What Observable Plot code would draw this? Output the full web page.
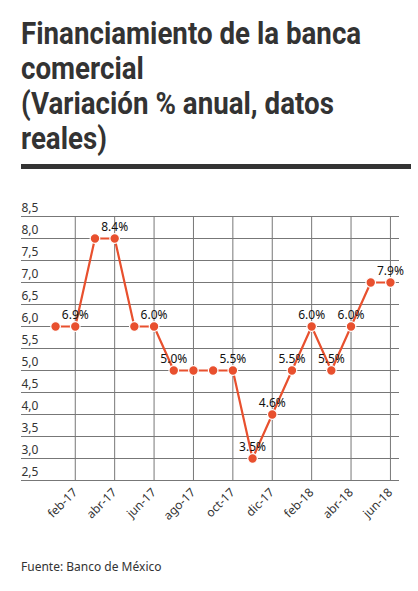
<!DOCTYPE html>
<html>
<head>
<meta charset="utf-8">
<script src="https://cdn.jsdelivr.net/npm/d3@7"></script>
<script src="https://cdn.jsdelivr.net/npm/@observablehq/plot@0.6"></script>
<style>
  body { margin: 0; background: #fff; width: 418px; overflow: hidden; }
  #title {
    margin: 0 7px 0 21px; padding-top: 16px; padding-bottom: 8px;
    border-bottom: 5px solid #333; overflow: hidden;
  }
  #title span {
    display: block; width: 450px; transform: scaleX(0.894); transform-origin: 0 0;
    font-family: Roboto, sans-serif; font-weight: bold; font-size: 31px; line-height: 35px; color: #333;
    white-space: nowrap;
  }
  #chart { margin-top: 21px; }
  #caption { margin: 28px 0 0 21px; font-family: "Noto Sans", sans-serif; font-size: 12px; color: #333; }
</style>
</head>
<body>
<div id="title"><span>Financiamiento de la banca<br>comercial<br>(Variación % anual, datos<br>reales)</span></div>
<div id="chart"></div>
<div id="caption">Fuente: Banco de México</div>
<script>
const months = ["ene-17","feb-17","mar-17","abr-17","may-17","jun-17","jul-17","ago-17","sep-17","oct-17","nov-17","dic-17","ene-18","feb-18","mar-18","abr-18","may-18","jun-18"];
const values = [6, 6, 8, 8, 6, 6, 5, 5, 5, 5, 3, 4, 5, 6, 5, 6, 7, 7];
const labels = ["", "6.9%", "", "8.4%", "", "6.0%", "5.0%", "", "", "5.5%", "3.5%", "4.6%", "5.5%", "6.0%", "5.5%", "6.0%", "", "7.9%"];
const yTicks = [2.5, 3, 3.5, 4, 4.5, 5, 5.5, 6, 6.5, 7, 7.5, 8, 8.5];
const xTickMonths = ["feb-17","abr-17","jun-17","ago-17","oct-17","dic-17","feb-18","abr-18","jun-18"];

const data = months.map((m, i) => ({i, m, v: values[i], label: labels[i]}));
const xTicks = xTickMonths.map(m => months.indexOf(m));
const color = "#e8502e";

const chart = Plot.plot({
  width: 418, height: 340,
  marginLeft: 21, marginRight: 19, marginTop: 26, marginBottom: 50,
  style: {fontFamily: "'Noto Sans', sans-serif", background: "transparent"},
  x: {type: "linear", domain: [-1.73, 17.46], label: null},
  y: {domain: [2.5, 8.5], label: null},
  marks: [
    Plot.gridY(yTicks, {stroke: "#777", strokeOpacity: 1}),
    Plot.gridX(xTicks, {stroke: "#777", strokeOpacity: 1}),
    Plot.axisY(yTicks, {tickSize: 0, tickPadding: 0, textAnchor: "start", dy: -8, fontSize: 12, fill: "#333", label: null,
      tickFormat: d => d.toFixed(1).replace(".", ",")}),
    Plot.axisX(xTicks, {tickSize: 0, tickPadding: 10, tickRotate: -45, fontSize: 12, fill: "#333", label: null,
      tickFormat: i => months[i]}),
    Plot.line(data, {x: "i", y: "v", stroke: color, strokeWidth: 2.2}),
    Plot.dot(data, {x: "i", y: "v", r: 4.8, fill: color, stroke: "white", strokeWidth: 1.2}),
    Plot.text(data, {x: "i", y: "v", text: "label", dy: -11, fontSize: 12, fill: "#111"})
  ]
});
document.getElementById("chart").append(chart);
</script>
</body>
</html>
